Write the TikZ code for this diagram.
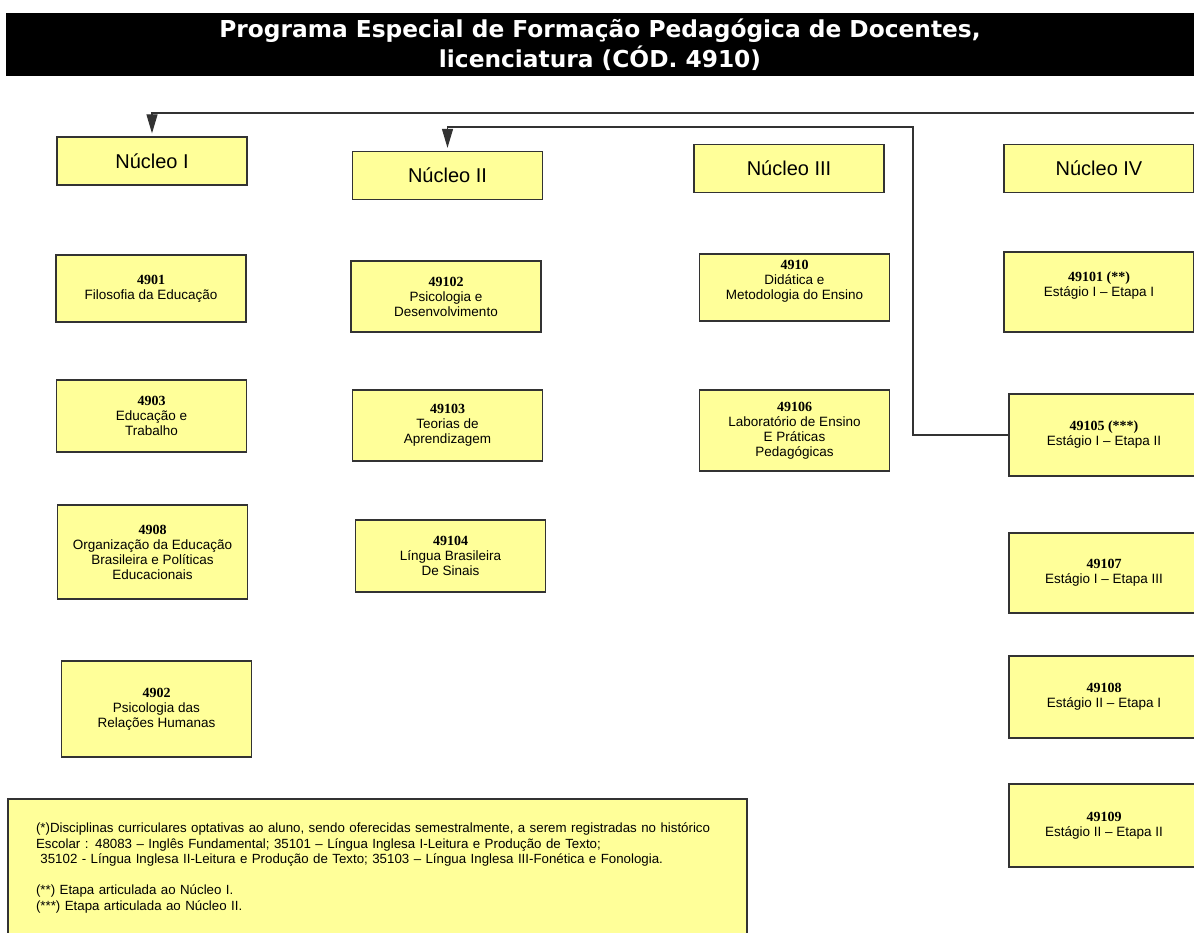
\documentclass[tikz,border=0pt]{standalone}
\usepackage{fontspec}
\setmainfont{Liberation Sans}
\newfontfamily\numfont{Liberation Serif}
\newfontfamily\titfont{DejaVu Sans}
\usetikzlibrary{arrows.meta}
\definecolor{amarelo}{HTML}{FFFF99}
\definecolor{borda}{HTML}{333333}
\newcommand{\cod}[1]{{\numfont\bfseries\fontsize{14}{15}\selectfont #1}}
\newcommand{\larg}{190pt}
\newcommand{\colI}{152}
\newcommand{\colII}{447.5}
\newcommand{\colIII}{794.5}
\newcommand{\colIV}{1104}

\begin{document}
\begin{tikzpicture}[x=1pt,y=-1pt,
    caixa/.style={draw=borda, line width=1.3pt, fill=amarelo, minimum width=\larg,
                  align=center, inner sep=2pt, font=\fontsize{13.5}{15}\selectfont},
    nucleo/.style={caixa, minimum height=48pt, font=\fontsize{20}{22}\selectfont},
    seta/.style={draw=borda, line width=1.2pt, -{Triangle[width=11pt,length=19pt]}, shorten >=3pt}]

        \clip (0,0) rectangle (1194,932);

        % Title bar
        \node[fill=black, text=white, minimum width=1188pt, minimum height=63pt,
              align=center, font=\titfont\fontsize{23.3}{30}\selectfont\bfseries]
            (titulo) at (600,44.5) {Programa Especial de Formação Pedagógica de Docentes,\\licenciatura (CÓD. 4910)};

        % Nucleos
        \node[nucleo] (nI)   at (\colI,161)    {Núcleo I};
        \node[nucleo] (nII)  at (\colII,175.5) {Núcleo II};
        \node[nucleo] (nIII) at (789,168.5)    {Núcleo III};
        \node[nucleo] (nIV)  at (1099,168.5)   {Núcleo IV};

        % Nucleo I
        \node[caixa, minimum height=67pt] (c4901) at (151,288.5) {\cod{4901}\\Filosofia da Educação};
        \node[caixa, minimum height=72pt] (c4903) at (151.5,416) {\cod{4903}\\Educação e\\Trabalho};
        \node[caixa, minimum height=94pt] (c4908) at (152.5,552) {\cod{4908}\\Organização da Educação\\Brasileira e Políticas\\Educacionais};
        \node[caixa, minimum height=96pt] (c4902) at (156.5,709) {\cod{4902}\\Psicologia das\\Relações Humanas};

        % Nucleo II
        \node[caixa, minimum height=71pt] (c49102) at (446,296.5)   {\cod{49102}\\Psicologia e\\Desenvolvimento};
        \node[caixa, minimum height=71pt] (c49103) at (\colII,425.5) {\cod{49103}\\Teorias de\\Aprendizagem};
        \node[caixa, minimum height=72pt] (c49104) at (450.5,556)   {\cod{49104}\\Língua Brasileira\\De Sinais};

        % Nucleo III
        \node[caixa, minimum height=67pt] (c4910)  at (\colIII,287.5) {\cod{4910}\\Didática e\\Metodologia do Ensino\\\mbox{}};
        \node[caixa, minimum height=81pt] (c49106) at (\colIII,430.5) {\cod{49106}\\Laboratório de Ensino\\E Práticas\\Pedagógicas};

        % Nucleo IV
        \node[caixa, minimum height=80pt] (c49101) at (1099,292)    {\cod{49101 (**)}\\Estágio I – Etapa I\\\mbox{}};
        \node[caixa, minimum height=82pt] (c49105) at (\colIV,435)  {\cod{49105 (***)}\\Estágio I – Etapa II};
        \node[caixa, minimum height=80pt] (c49107) at (\colIV,573)  {\cod{49107}\\Estágio I – Etapa III};
        \node[caixa, minimum height=82pt] (c49108) at (\colIV,697)  {\cod{49108}\\Estágio II – Etapa I};
        \node[caixa, minimum height=83pt] (c49109) at (\colIV,825.5) {\cod{49109}\\Estágio II – Etapa II};

        % Notes
        \node[caixa, minimum height=138pt, inner xsep=28pt, text width=683pt, align=left,
              font=\fontsize{13.3}{15.5}\selectfont] (notas) at (377.5,868)
            {(*)Disciplinas curriculares optativas ao aluno, sendo oferecidas semestralmente, a serem registradas no histórico\\
             Escolar : 48083 – Inglês Fundamental; 35101 – Língua Inglesa I-Leitura e Produção de Texto;\\
             \ 35102 - Língua Inglesa II-Leitura e Produção de Texto; 35103 – Língua Inglesa III-Fonética e Fonologia.\\[15.5pt]
             (**) Etapa articulada ao Núcleo I.\\
             (***) Etapa articulada ao Núcleo II.};

        % Connectors
        \coordinate (fim) at (1196,113);
        \draw[seta] (fim) -| (nI.north);
        \draw[seta] (c49105.west) -| (913,127) -| (nII.north);
    \end{tikzpicture}
\end{document}
